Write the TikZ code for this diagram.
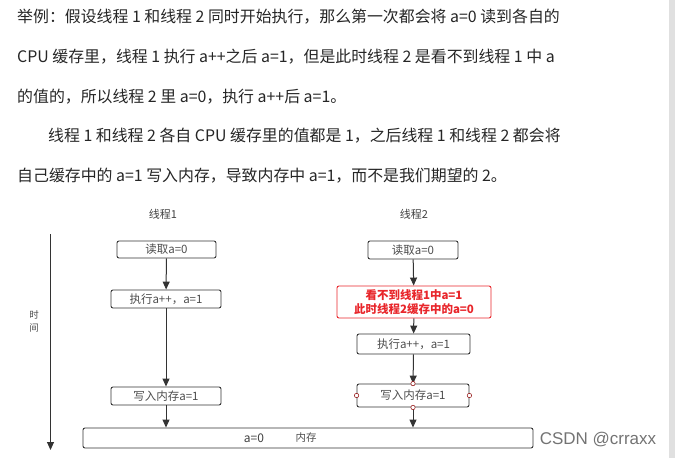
\documentclass[tikz,border=0pt]{standalone}
\usepackage{fontspec}
\setmainfont{Noto Sans CJK SC}
\newfontfamily\markfont{Liberation Sans}
\usetikzlibrary{arrows.meta}

\definecolor{linegray}{HTML}{333333}
\definecolor{warnred}{HTML}{E8262B}

\begin{document}
\begin{tikzpicture}[x=1pt, y=-1pt,
    para/.style={anchor=west, inner sep=0pt, text=black!85, font=\fontsize{15.9}{18}\selectfont},
    stepbox/.style={draw=linegray, rounded corners=2pt, line width=0.9pt, minimum height=18pt, inner sep=0pt, text=black!70, font=\fontsize{11.5}{13}\selectfont},
    warnbox/.style={draw=warnred, rounded corners=2pt, line width=0.9pt, inner sep=0pt, align=center, text=warnred, font=\fontsize{11.5}{14}\selectfont\bfseries},
    flow/.style={-{Triangle[length=8pt, width=7pt]}, line width=1pt, draw=linegray},
    port/.style={draw=red!55!black, fill=white, line width=0.5pt}]
    \useasboundingbox (0,0) rectangle (675,458);
    \fill[black!12] (669,0) rectangle (675,458); % scroll strip

    % text above the picture
    \node[para] (p1) at (17,17) {举例：假设线程 1 和线程 2 同时开始执行，那么第一次都会将 a=0 读到各自的};
    \node[para] (p2) at (17,57) {CPU 缓存里，线程 1 执行 a++之后 a=1，但是此时线程 2 是看不到线程 1 中 a};
    \node[para] (p3) at (17,97) {的值的，所以线程 2 里 a=0，执行 a++后 a=1。};
    \node[para] (p4) at (48,136) {线程 1 和线程 2 各自 CPU 缓存里的值都是 1，之后线程 1 和线程 2 都会将};
    \node[para] (p5) at (17,176) {自己缓存中的 a=1 写入内存，导致内存中 a=1，而不是我们期望的 2。};

    % time axis
    \coordinate (t0) at (50.5,234);
    \coordinate (t1) at (50.5,450);
    \draw[flow] (t0) -- (t1);
    \node[align=center, inner sep=0pt, text=black!70, font=\fontsize{9.5}{13}\selectfont] (time) at (34,321) {时\\间};

    % thread 1
    \node[text=black!75, font=\fontsize{11}{12}\selectfont] (th1) at (163,214) {线程1};
    \node[stepbox, minimum width=99pt, minimum height=17pt] (r1) at (166.5,249.5) {读取a=0};
    \node[stepbox, minimum width=110pt] (e1) at (166,299) {执行a++，a=1};
    \node[stepbox, minimum width=110pt] (w1) at (166,396) {写入内存a=1};

    % thread 2
    \node[text=black!75, font=\fontsize{11}{12}\selectfont] (th2) at (414,214) {线程2};
    \node[stepbox, minimum width=90pt] (r2) at (413,250) {读取a=0};
    \node[warnbox, minimum width=154pt, minimum height=32pt] (see2) at (414,302) {看不到线程1中a=1\\此时线程2缓存中的a=0};
    \node[stepbox, minimum width=113pt, minimum height=20pt] (e2) at (413.5,344) {执行a++，a=1};
    \node[stepbox, minimum width=112pt, minimum height=23pt] (w2) at (413,395.5) {写入内存a=1};

    % memory
    \node[stepbox, minimum width=450pt, minimum height=20pt] (mem) at (308,438) {};
    \node[text=black!75, font=\fontsize{12}{12}\selectfont] (memval) at (254,438) {a=0};
    \node[text=black!70, font=\fontsize{10.5}{12}\selectfont] (memname) at (306,438) {内存};

    \draw[flow] (r1) -- (e1);
    \draw[flow] (e1) -- (w1);
    \draw[flow] (w1.south) -- (w1.south |- mem.north);
    \draw[flow] (r2) -- (see2);
    \draw[flow] (see2) -- (e2);
    \draw[flow] (e2) -- (w2);
    \draw[flow] (w2.south) -- (w2.south |- mem.north);

    \foreach \a in {north,south,east,west} \draw[port] (w2.\a) circle (2.2pt);

    \node[text=black!55, font=\markfont\fontsize{17}{20}\selectfont] (mark) at (598,440) {CSDN @crraxx};
\end{tikzpicture}
\end{document}
